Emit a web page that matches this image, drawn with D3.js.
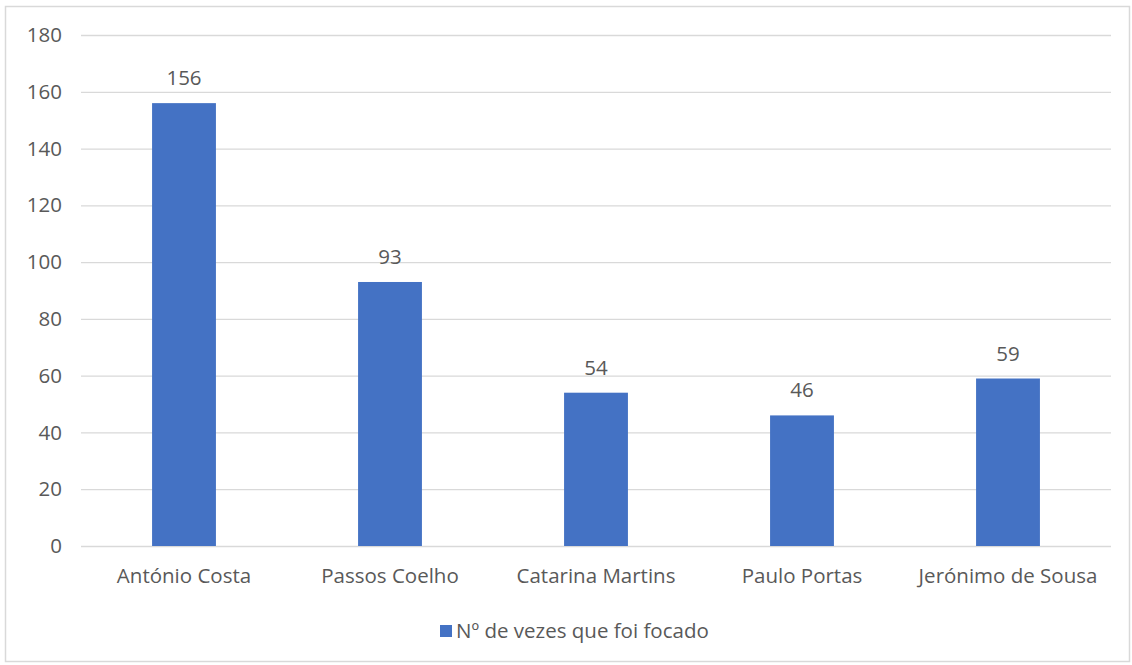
<!DOCTYPE html>
<html><head><meta charset="utf-8">
<script src="https://cdn.jsdelivr.net/npm/d3@7"></script>
<style>body{margin:0;background:#fff;} text{font-family:"Open Sans", sans-serif;}</style>
</head><body>
<svg id="c" width="1132" height="665"></svg>
<script>
const categories = ["António Costa","Passos Coelho","Catarina Martins","Paulo Portas","Jerónimo de Sousa"];
const values = [156, 93, 54, 46, 59];
const yTicks = [0,20,40,60,80,100,120,140,160,180];
const seriesName = "Nº de vezes que foi focado";

(function(){
const svg = d3.select("#c");
const mLeft = 81, mRight = 1111, mTop = 35, mBottom = 546;
const textColor = "#595959", gridColor = "#D9D9D9", barColor = "#4472C4";
const fs = "20.5px", ff = "'Open Sans', sans-serif";

svg.append("rect").attr("x",5.5).attr("y",6.5).attr("width",1124).attr("height",655)
  .attr("fill","#fff").attr("stroke","#D9D9D9").attr("stroke-width",1.5);

const x = d3.scaleBand().domain(categories).range([mLeft,mRight]).paddingInner(0.69).paddingOuter(0.345);
const y = d3.scaleLinear().domain([0,180]).range([mBottom,mTop]);

const yAxis = svg.append("g").attr("transform",`translate(${mLeft},0)`)
  .call(d3.axisLeft(y).tickValues(yTicks).tickSize(-(mRight-mLeft)).tickPadding(19));
yAxis.select(".domain").remove();
yAxis.selectAll("line").attr("stroke",gridColor).attr("stroke-width",1.3);
yAxis.selectAll("text").attr("fill",textColor).style("font-size",fs).style("font-family",ff);

svg.selectAll("rect.bar").data(values).enter().append("rect").attr("class","bar")
  .attr("x",(d,i)=>x(categories[i])).attr("width",x.bandwidth())
  .attr("y",d=>y(d)).attr("height",d=>y(0)-y(d)).attr("fill",barColor);

svg.selectAll("text.val").data(values).enter().append("text").attr("class","val")
  .attr("x",(d,i)=>x(categories[i])+x.bandwidth()/2).attr("y",d=>y(d)-18)
  .attr("text-anchor","middle").attr("fill",textColor).style("font-size",fs).style("font-family",ff).text(d=>d);

const xAxis = svg.append("g").attr("transform",`translate(0,${mBottom})`)
  .call(d3.axisBottom(x).tickSize(0).tickPadding(22));
xAxis.select(".domain").remove();
xAxis.selectAll("text").attr("fill",textColor).style("font-size",fs).style("font-family",ff);

const lg = svg.append("g");
lg.append("rect").attr("x",440).attr("y",625).attr("width",12).attr("height",12).attr("fill",barColor);
lg.append("text").attr("x",456).attr("y",638).attr("fill",textColor).style("font-size",fs).style("font-family",ff).text(seriesName);
})();
</script>
</body></html>
